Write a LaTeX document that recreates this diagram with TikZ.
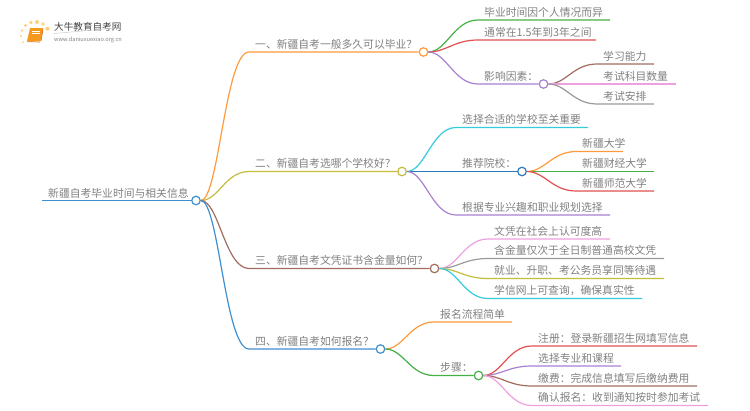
\documentclass[tikz,border=0pt]{standalone}
\usepackage{fontspec}
\setmainfont{Noto Sans CJK SC}
\definecolor{txt}{HTML}{808080}
\definecolor{cOrange}{HTML}{FF9A3C}
\definecolor{cOlive}{HTML}{C4BC3A}
\definecolor{cBrown}{HTML}{A26D60}
\definecolor{cBlue}{HTML}{3F8FCF}
\definecolor{cGreen}{HTML}{45B045}
\definecolor{cRed}{HTML}{E25050}
\definecolor{cPurple}{HTML}{A880D0}
\definecolor{cCyan}{HTML}{33CCDD}
\definecolor{cDeep}{HTML}{2A78C0}
\definecolor{cPink}{HTML}{EE9FDD}
\definecolor{cGrey}{HTML}{999999}
\definecolor{cSun}{HTML}{FFD27A}
\definecolor{cBook}{HTML}{F59A1E}
\tikzset{
  lbl/.style={anchor=base west,inner sep=0pt,text=txt,font=\fontsize{10.8}{12}\selectfont},
  hub/.style={circle,draw=#1,fill=white,line width=1.2pt,minimum size=8.5pt,inner sep=0pt},
  wire/.style={line width=1.2pt,draw=#1}
}
% \leaf{name}{colour}{parent}{text x}{line end x}{y}{text}
\newcommand{\leaf}[7]{%
  \coordinate (#1S) at (#4-6,#6);
  \coordinate (#1E) at (#5,#6);
  \node[lbl] (#1) at (#4,#6-3.6) {#7};
  \draw[wire=#2] (#3.east) .. controls +(18,0) and +(-24,0) .. (#1S) -- (#1E);
}
% \branch{name}{colour}{parent}{text x}{hub x}{y}{text}
\newcommand{\branch}[7]{%
  \coordinate (#1S) at (#4-6,#6);
  \node[hub=#2] (#1C) at (#5,#6) {};
  \node[lbl] (#1) at (#4,#6-3.6) {#7};
  \draw[wire=#2] (#3.east) .. controls +(18,0) and +(-24,0) .. (#1S) -- (#1C.west);
}
\begin{document}
\begin{tikzpicture}[x=1pt,y=-1pt]
\useasboundingbox (0,0) rectangle (750,410);
% logo
\foreach \px/\py/\pr in {25.5/25.5/1.6,31/22.5/1.9,37/22/2,43/24/1.9,47.5/28.7/2.1,22/30.5/1.3,21/36/1.1,23/42/1}
  \fill[cSun] (\px,\py) circle (\pr);
\fill[cBook] (30,28) -- (43,28) -- (40.5,41) -- (27,41) -- cycle;
\draw[orange!85!black,line width=.7pt] (27,41.6) -- (40,42) (41,41) -- (43,29);
\draw[white,line width=.5pt] (32,31) -- (40,31) (31.5,33.5) -- (39.5,33.5);
\node[inner sep=0pt,anchor=base west,text=black!75,font=\fontsize{9.6}{10}\selectfont] (logoA) at (54,30.5) {大牛教育自考网};
\node[inner sep=0pt,anchor=base west,text=black!50,font=\fontsize{5.6}{6}\selectfont] (logoB) at (54,41) {www.daniuxuexiao.org.cn};
\draw[black!20,line width=.5pt] (logoA.base west)+(0,3) -- ([yshift=3pt]logoA.base east);
% root
\coordinate (rootS) at (42,200.5);
\node[hub=cBlue] (root) at (196,200.5) {};
\node[lbl] (rootT) at (48,197) {新疆自考毕业时间与相关信息};
\draw[wire=cBlue] (rootS) -- (root.west);
% level one
\branch{A}{cOrange}{root}{255}{423.5}{52}{一、新疆自考一般多久可以毕业？}
\branch{B}{cOlive}{root}{255}{402}{171.5}{二、新疆自考选哪个学校好？}
\branch{C}{cBrown}{root}{255}{434.5}{268.5}{三、新疆自考文凭证书含金量如何？}
\branch{D}{cBlue}{root}{255}{380.5}{349}{四、新疆自考如何报名？}
% A
\leaf{Aa}{cGreen}{AC}{484}{610}{20}{毕业时间因个人情况而异}
\leaf{Ab}{cRed}{AC}{484}{596}{40}{通常在1.5年到3年之间}
\branch{Ac}{cPurple}{AC}{484}{543.5}{84}{影响因素：}
\leaf{Aca}{cBrown}{AcC}{603}{654}{64}{学习能力}
\leaf{Acb}{cPink}{AcC}{603}{676}{84}{考试科目数量}
\leaf{Acc}{cGrey}{AcC}{603}{654}{104}{考试安排}
% B
\leaf{Ba}{cCyan}{BC}{462}{588}{127.5}{选择合适的学校至关重要}
\branch{Bb}{cDeep}{BC}{462}{522}{171.5}{推荐院校：}
\leaf{Bc}{cPurple}{BC}{462}{610}{215}{根据专业兴趣和职业规划选择}
\leaf{Bba}{cOrange}{BbC}{582}{623}{151.5}{新疆大学}
\leaf{Bbb}{cGreen}{BbC}{582}{654}{171.5}{新疆财经大学}
\leaf{Bbc}{cRed}{BbC}{582}{654}{191}{新疆师范大学}
% C
\leaf{Ca}{cPink}{CC}{494}{610}{239}{文凭在社会上认可度高}
\leaf{Cb}{cGrey}{CC}{494}{664}{258.5}{含金量仅次于全日制普通高校文凭}
\leaf{Cc}{cOlive}{CC}{494}{664}{278.5}{就业、升职、考公务员享同等待遇}
\leaf{Cd}{cCyan}{CC}{494}{642}{298.5}{学信网上可查询，确保真实性}
% D
\leaf{Da}{cOrange}{DC}{440}{512}{322}{报名流程简单}
\branch{Db}{cGreen}{DC}{440}{478.5}{375.5}{步骤：}
\leaf{Dba}{cRed}{DbC}{538}{697}{346}{注册：登录新疆招生网填写信息}
\leaf{Dbb}{cPurple}{DbC}{538}{621}{366}{选择专业和课程}
\leaf{Dbc}{cBrown}{DbC}{538}{697}{386}{缴费：完成信息填写后缴纳费用}
\leaf{Dbd}{cPink}{DbC}{538}{708}{405.5}{确认报名：收到通知按时参加考试}
\end{tikzpicture}
\end{document}
